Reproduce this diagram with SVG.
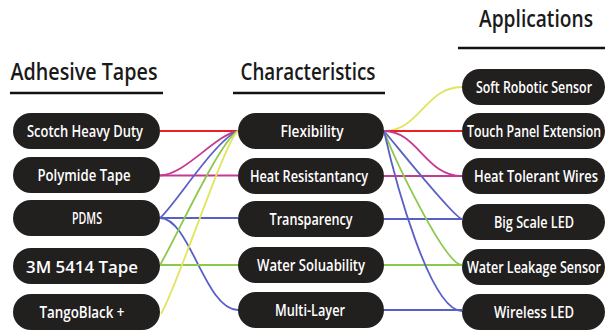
<svg xmlns="http://www.w3.org/2000/svg" width="605" height="330" viewBox="0 0 605 330">
<style>
.pill{fill:#221f1f}
.lbl{fill:#ffffff;font-family:"Open Sans","Noto Sans","DejaVu Sans Condensed",sans-serif;font-weight:600;font-size:17px;text-anchor:middle}
.hd{fill:#1a1a1a;font-family:"Open Sans","Noto Sans","DejaVu Sans Condensed",sans-serif;font-weight:600;font-size:23px;text-anchor:middle}
.ul{stroke:#111;stroke-width:2.5}
.c{fill:none;stroke-width:1.8}
.r{stroke:#ec1f27}.m{stroke:#c43a92}.b{stroke:#5a5fc8}.g{stroke:#8cc84b}.y{stroke:#e2e45e}
</style>
<rect width="605" height="330" fill="#ffffff"/>
<g id="headings">
<text class="hd" x="84" y="80" textLength="147" lengthAdjust="spacingAndGlyphs">Adhesive Tapes</text>
<line class="ul" x1="10" y1="93" x2="163" y2="93"/>
<text class="hd" x="308" y="80" textLength="135" lengthAdjust="spacingAndGlyphs">Characteristics</text>
<line class="ul" x1="233" y1="93" x2="385" y2="93"/>
<text class="hd" x="536" y="27" textLength="114" lengthAdjust="spacingAndGlyphs">Applications</text>
<line class="ul" x1="458" y1="48" x2="605" y2="48"/>
</g>
<g id="connectors">
<path class="c r" d="M160,131 H238"/>
<path class="c m" d="M160,175.5 H238"/>
<path class="c m" d="M160,175.5 C185,175 215,135 238,131"/>
<path class="c b" d="M160,218 H238"/>
<path class="c b" d="M160,218 C175,205 215,140 238,131"/>
<path class="c b" d="M160,218 C190,218 205,310 238,310"/>
<path class="c g" d="M160,265 H238"/>
<path class="c g" d="M160,265 C175,240 220,140 238,131"/>
<path class="c y" d="M161,314 C180,280 225,140 238,131"/>
<path class="c y" d="M384,131 C420,131 425,87 462,87"/>
<path class="c r" d="M384,131 H462"/>
<path class="c m" d="M384,131 C418,131 425,176 462,176"/>
<path class="c m" d="M384,176 H462"/>
<path class="c b" d="M384,131 C400,150 455,219 462,219"/>
<path class="c b" d="M384,219 H462"/>
<path class="c g" d="M384,131 C395,160 445,265 462,265"/>
<path class="c g" d="M384,265 H462"/>
<path class="c b" d="M384,131 C395,180 430,311 462,311"/>
<path class="c b" d="M384,310 H462"/>
</g>
<g id="n-scotch"><rect class="pill" x="13" y="113" width="147" height="36" rx="18"/><text class="lbl" x="85" y="137" textLength="116" lengthAdjust="spacingAndGlyphs">Scotch Heavy Duty</text></g>
<g id="n-polymide"><rect class="pill" x="13" y="157" width="147" height="36" rx="18"/><text class="lbl" x="84" y="181" textLength="93" lengthAdjust="spacingAndGlyphs">Polymide Tape</text></g>
<g id="n-pdms"><rect class="pill" x="13" y="200" width="147" height="36" rx="18"/><text class="lbl" x="87" y="224" textLength="30" lengthAdjust="spacingAndGlyphs">PDMS</text></g>
<g id="n-3m"><rect class="pill" x="13" y="248" width="147" height="36" rx="18"/><text class="lbl" x="82" y="273" font-size="19" textLength="112" lengthAdjust="spacingAndGlyphs">3M 5414 Tape</text></g>
<g id="n-tango"><rect class="pill" x="13" y="294" width="147" height="36" rx="18"/><text class="lbl" x="82" y="318" textLength="85" lengthAdjust="spacingAndGlyphs">TangoBlack +</text></g>
<g id="n-flex"><rect class="pill" x="238" y="113" width="146" height="36" rx="18"/><text class="lbl" x="312" y="137" textLength="63" lengthAdjust="spacingAndGlyphs">Flexibility</text></g>
<g id="n-heat"><rect class="pill" x="238" y="158" width="146" height="36" rx="18"/><text class="lbl" x="309" y="182" textLength="118" lengthAdjust="spacingAndGlyphs">Heat Resistantancy</text></g>
<g id="n-transp"><rect class="pill" x="238" y="201" width="146" height="36" rx="18"/><text class="lbl" x="311" y="225" textLength="83" lengthAdjust="spacingAndGlyphs">Transparency</text></g>
<g id="n-water"><rect class="pill" x="238" y="247" width="146" height="36" rx="18"/><text class="lbl" x="311" y="271" textLength="108" lengthAdjust="spacingAndGlyphs">Water Soluability</text></g>
<g id="n-multi"><rect class="pill" x="238" y="292" width="146" height="36" rx="18"/><text class="lbl" x="310" y="316" textLength="70" lengthAdjust="spacingAndGlyphs">Multi-Layer</text></g>
<g id="n-soft"><rect class="pill" x="462" y="69" width="143" height="36" rx="18"/><text class="lbl" x="534" y="93" textLength="116" lengthAdjust="spacingAndGlyphs">Soft Robotic Sensor</text></g>
<g id="n-touch"><rect class="pill" x="462" y="113" width="143" height="36" rx="18"/><text class="lbl" x="534" y="137" textLength="134" lengthAdjust="spacingAndGlyphs">Touch Panel Extension</text></g>
<g id="n-heatwires"><rect class="pill" x="462" y="158" width="143" height="36" rx="18"/><text class="lbl" x="536" y="182" textLength="124" lengthAdjust="spacingAndGlyphs">Heat Tolerant Wires</text></g>
<g id="n-bigled"><rect class="pill" x="462" y="204" width="143" height="36" rx="18"/><text class="lbl" x="534" y="228" textLength="80" lengthAdjust="spacingAndGlyphs">Big Scale LED</text></g>
<g id="n-leak"><rect class="pill" x="462" y="249" width="143" height="36" rx="18"/><text class="lbl" x="534" y="273" textLength="134" lengthAdjust="spacingAndGlyphs">Water Leakage Sensor</text></g>
<g id="n-wireless"><rect class="pill" x="462" y="294" width="143" height="36" rx="18"/><text class="lbl" x="534" y="318" textLength="80" lengthAdjust="spacingAndGlyphs">Wireless LED</text></g>
</svg>
